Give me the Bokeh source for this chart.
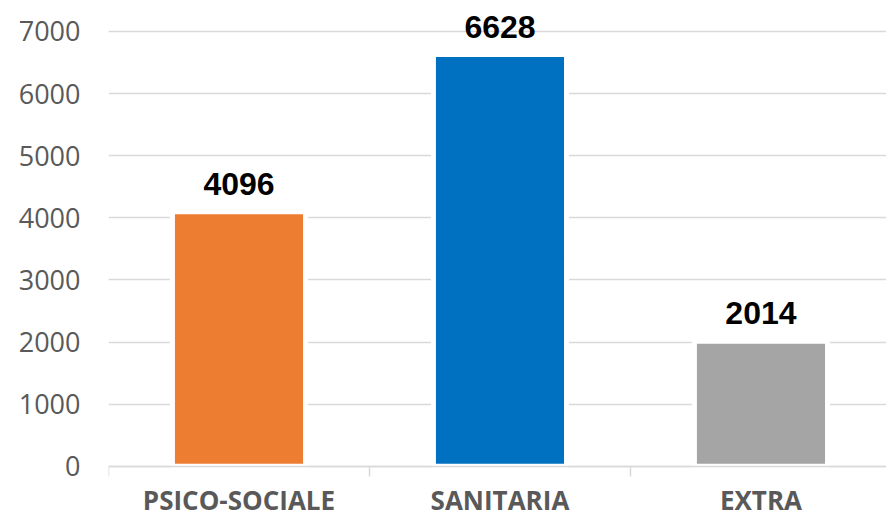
from bokeh.plotting import figure
from bokeh.models import Range1d, FixedTicker, ColumnDataSource
from bokeh.core.properties import value
from bokeh.embed import file_html
from bokeh.resources import INLINE

categories = ["PSICO-SOCIALE", "SANITARIA", "EXTRA"]
values = [4096, 6628, 2014]
colors = ["#ED7D31", "#0070C0", "#A5A5A5"]
y_ticks = [0, 1000, 2000, 3000, 4000, 5000, 6000, 7000]

xs = [i + 0.5 for i in range(len(categories))]
src = ColumnDataSource(dict(x=xs, top=values, color=colors,
                            label=[str(v) for v in values]))

p = figure(width=886, height=519, output_backend="svg", toolbar_location=None,
           x_range=Range1d(0, 2.981), y_range=Range1d(-858, 7499),
           min_border_left=108, min_border_right=0, min_border_top=0,
           min_border_bottom=0)
p.outline_line_color = None
p.background_fill_color = "white"

p.vbar(x="x", top="top", width=0.51, bottom=0, fill_color="color",
       line_color="white", line_width=5, source=src)
p.text(x="x", y="top", text="label", source=src, text_align="center",
       text_baseline="alphabetic", y_offset=-28,
       text_font=value("Liberation Sans"), text_font_style="bold",
       text_font_size="32px", text_color="black")

# y axis
p.yaxis.ticker = FixedTicker(ticks=y_ticks)
p.yaxis.axis_line_color = None
p.yaxis.major_tick_line_color = None
p.yaxis.minor_tick_line_color = None
p.yaxis.major_label_standoff = 22
p.yaxis.major_label_text_font = "Open Sans"
p.yaxis.major_label_text_font_size = "27px"
p.yaxis.major_label_text_color = "#595959"

# x axis (drawn at y = 0 inside the frame)
p.xaxis.fixed_location = 0
p.xaxis.ticker = FixedTicker(ticks=xs, minor_ticks=list(range(len(categories) + 1)))
p.xaxis.major_label_overrides = {x: c for x, c in zip(xs, categories)}
p.xaxis.axis_line_color = "#D9D9D9"
p.xaxis.axis_line_width = 1.5
p.xaxis.major_tick_line_color = None
p.xaxis.minor_tick_line_color = "#D9D9D9"
p.xaxis.minor_tick_line_width = 1.5
p.xaxis.minor_tick_out = 10
p.xaxis.minor_tick_in = 0
p.xaxis.major_label_standoff = 6
p.xaxis.major_label_text_font = "Open Sans"
p.xaxis.major_label_text_font_style = "bold"
p.xaxis.major_label_text_font_size = "26px"
p.xaxis.major_label_text_color = "#595959"

p.xgrid.grid_line_color = None
p.ygrid.ticker = FixedTicker(ticks=y_ticks)
p.ygrid.grid_line_color = "#D9D9D9"
p.ygrid.grid_line_width = 1.5

open("out.html", "w").write(file_html(p, INLINE))
